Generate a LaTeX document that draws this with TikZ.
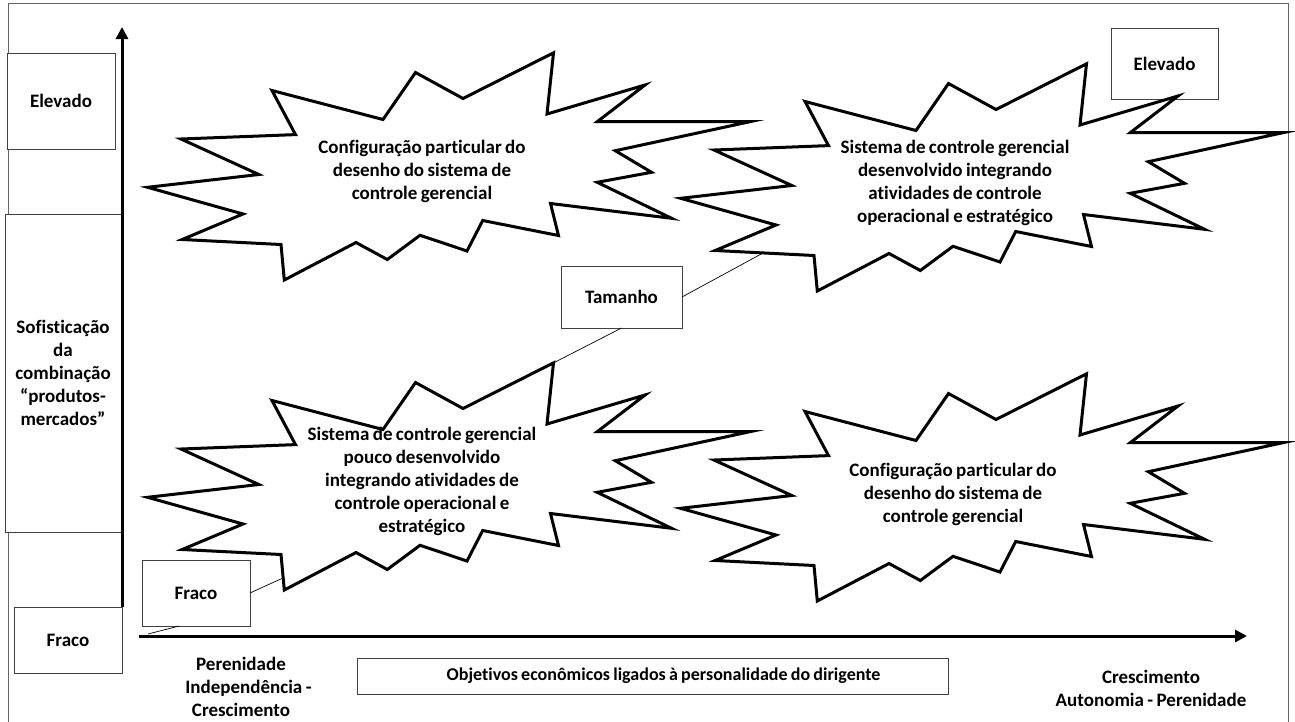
\documentclass[tikz,border=0pt]{standalone}
\usepackage{fontspec}
\setmainfont{Carlito}[Ligatures=NoCommon]
\usetikzlibrary{arrows.meta}
\newcommand\lblfont{\bfseries\fontsize{19}{23}\selectfont\spaceskip=0.18em plus 0.05em\relax}
\newcommand\objfont{\bfseries\fontsize{18}{22}\selectfont\spaceskip=0.18em plus 0.05em\relax}
\begin{document}
\begin{tikzpicture}[x=1pt,y=-1pt,
  lbl/.style={font=\lblfont, align=center, inner sep=0pt},
  box/.style={draw=black!75, line width=0.8pt, fill=white, inner sep=0pt, outer sep=0pt,
              font=\lblfont, align=center},
  burst/.style={draw=black, line width=3pt, fill=white, line join=miter, miter limit=20},
  axisline/.style={line width=3pt, -{Triangle[length=12pt,width=12pt]}},
  link/.style={draw=black, line width=0.7pt},
  frameline/.style={draw=black!60, line width=1pt}
]
\useasboundingbox (0,0) rectangle (1295,721);
\draw[frameline] (8,730) -- (8,3) -- (1288,3) -- (1288,730);

% boxes
\node[box, minimum width=108, minimum height=96] (elevL) at (61,101) {Elevado};
\node[box, minimum width=116, minimum height=318] (sofis) at (63,373)
  {Sofisticação\\da\hspace*{15pt}\\combinação\\“produtos-\\mercados”};
\node[box, minimum width=108, minimum height=66] (fracoL) at (68,640) {Fraco};
\node[box, minimum width=108, minimum height=66] (fraco2) at (196,593) {Fraco};
\node[box, minimum width=121, minimum height=62] (tamanho) at (621.5,297) {Tamanho};
\node[box, minimum width=107, minimum height=71] (elevR) at (1164.5,63.5) {Elevado};
\node[box, font=\objfont, minimum width=591, minimum height=36] (obj) at (652.5,676)
  {\hspace*{22pt}Objetivos econômicos ligados à personalidade do dirigente};

% axes
\coordinate (yB) at (122,607);
\coordinate (yT) at (122,27);
\coordinate (xL) at (139,636);
\coordinate (xR) at (1247,636);
\draw[axisline] (yB) -- (yT);
\draw[axisline] (xL) -- (xR);

% bursts
\foreach \dx/\dy in {0/0, -533/-11, 0/310, -533/299}{
  \draw[burst, shift={(\dx,\dy)}]
    (805,101.5) -- (916,130.5) -- (948.5,83.5) -- (996,109.5) -- (1086.5,63.8)
    -- (1080,125) -- (1178,96) -- (1130.2,132.7) -- (1282.9,132.7) -- (1148.3,161.7)
    -- (1184.5,183.3) -- (1130.2,193.3) -- (1204.6,229.3) -- (1083.5,214.5)
    -- (1091.5,246.5) -- (1015.7,231.5) -- (1000,262) -- (953,246.3) -- (920.3,270.5)
    -- (889,253.5) -- (817.3,291) -- (814,255.5) -- (715.2,250.5) -- (776,225)
    -- (680.6,198.3) -- (791.8,185.5) -- (714,150) -- (828.5,145.6) -- cycle;
}

% connectors
\coordinate (o) at (148,634);
\coordinate (blEdge) at (283,578);
\coordinate (blTip) at (552.7,363.3);
\coordinate (trEdge) at (763,253);
\draw[link] (o) -- (fraco2.-117);
\draw[link] (fraco2.east) -- (blEdge);
\draw[link] (tamanho.south) -- (blTip);
\draw[link] (tamanho.east) -- (trEdge);

% burst texts
\node[lbl] (tlText) at (422,171) {Configuração particular do\\desenho do sistema de\\controle gerencial};
\node[lbl] (trText) at (955,183) {Sistema de controle gerencial\\desenvolvido integrando\\atividades de controle\\operacional e estratégico};
\node[lbl] (blText) at (422,481) {Sistema de controle gerencial\\pouco desenvolvido\\integrando atividades de\\controle operacional e\\estratégico};
\node[lbl] (brText) at (953,494) {Configuração particular do\\desenho do sistema de\\controle gerencial};

% axis texts
\node[lbl] (perTxt) at (241,687) {Perenidade\\\hspace*{15pt}Independência -\\Crescimento};
\node[lbl] (creTxt) at (1151,688) {Crescimento\\Autonomia - Perenidade};
\end{tikzpicture}
\end{document}
